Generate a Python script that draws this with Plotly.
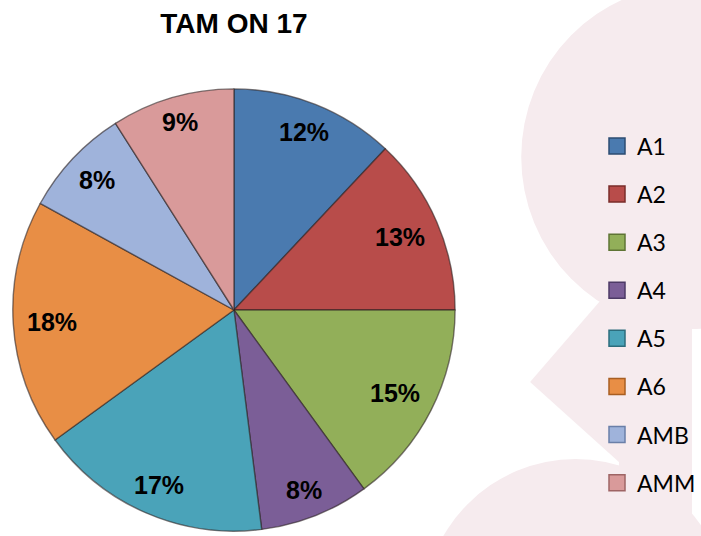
import math
import plotly.graph_objects as go

# ---- data ----
labels = ["A1", "A2", "A3", "A4", "A5", "A6", "AMB", "AMM"]
shares = [12, 13, 15, 8, 17, 18, 8, 9]
colors = ["#4A7AAF", "#B84C4A", "#92AF59", "#7B5E97", "#4AA3B9", "#E88E45", "#9FB3DB", "#D99A9A"]
edge_colors = ["#2C4C72", "#7A2C2A", "#5E7434", "#4D3A66", "#2C6D7D", "#A85E22", "#6A7FA8", "#9E6464"]
title_text = "TAM ON 17"

W, H = 701, 536
PINK = "#F6EBEE"

# pie geometry (pixels)
cx, cy, R = 237, 310, 224
dom_x = [(cx - R) / W, (cx + R) / W]
dom_y = [1 - (cy + R) / H, 1 - (cy - R) / H]

fig = go.Figure()

fig.add_trace(go.Pie(
    labels=labels,
    values=shares,
    sort=False,
    direction="clockwise",
    rotation=0,
    marker=dict(colors=colors, line=dict(color="rgba(45,35,35,0.6)", width=1.4)),
    textinfo="none",
    hoverinfo="label+percent",
    showlegend=False,
    domain=dict(x=dom_x, y=dom_y),
))

# legend entries (one per category, no drawn data)
for lab, col, ec in zip(labels, colors, edge_colors):
    fig.add_trace(go.Scatter(
        x=[None], y=[None], mode="markers", name=lab, legendgroup=lab,
        marker=dict(symbol="square", size=16, color=col, line=dict(color=ec, width=1.5)),
        showlegend=True, hoverinfo="skip",
    ))

# percentage labels placed near the outer edge of each slice (inside end)
total = sum(shares)
annotations = []
cum = 0.0
fs = 25
for v in shares:
    mid = (cum + v / 2) / total * 2 * math.pi
    cum += v
    txt = f"{round(v / total * 100)}%"
    half_w = (0.556 * (len(txt) - 1) + 0.889) * fs / 2
    half_h = 10
    ext = half_w * abs(math.sin(mid)) + half_h * abs(math.cos(mid))
    r = R - 14 - ext
    px = cx + r * math.sin(mid)
    py = cy - r * math.cos(mid)
    annotations.append(dict(
        x=px / W, y=1 - py / H, xref="paper", yref="paper",
        text=txt, showarrow=False, xanchor="center", yanchor="middle",
        font=dict(family="Arial, Liberation Sans, sans-serif", size=fs, color="#000000", weight="bold"),
    ))

def circ(x0, y0, rr):
    return dict(type="circle", xref="paper", yref="paper", layer="below",
                x0=(x0 - rr) / W, x1=(x0 + rr) / W,
                y0=1 - (y0 + rr) / H, y1=1 - (y0 - rr) / H,
                fillcolor=PINK, line=dict(width=0))

def poly(pts):
    d = "M " + " L ".join(f"{x / W:.5f},{1 - y / H:.5f}" for x, y in pts) + " Z"
    return dict(type="path", xref="paper", yref="paper", layer="below", path=d,
                fillcolor=PINK, line=dict(width=0))

shapes = [
    circ(700, 157, 172),
    circ(583, 614, 155),
    poly([(607, 302), (537, 382), (627, 462), (627, 536), (701, 536), (701, 302)]),
]

fig.update_layout(
    width=W, height=H,
    margin=dict(l=0, r=0, t=0, b=0),
    paper_bgcolor="white",
    plot_bgcolor="rgba(0,0,0,0)",
    xaxis=dict(visible=False),
    yaxis=dict(visible=False),
    title=dict(text=title_text, x=cx / W, xanchor="center", xref="paper",
               y=1 - 23 / H, yref="container", yanchor="middle",
               font=dict(family="Arial, Liberation Sans, sans-serif", size=28, color="#000000", weight="bold")),
    legend=dict(x=605 / W, xanchor="left", y=1 - 124.5 / H, yanchor="top",
                bgcolor="rgba(0,0,0,0)", borderwidth=0,
                font=dict(family="Lato, Carlito, sans-serif", size=23, color="#000000"),
                tracegroupgap=15.2, itemwidth=30),
    annotations=annotations,
    shapes=shapes,
)

fig.write_html("out.html", config={"displayModeBar": False},
               post_script="document.body.style.margin='0';")
